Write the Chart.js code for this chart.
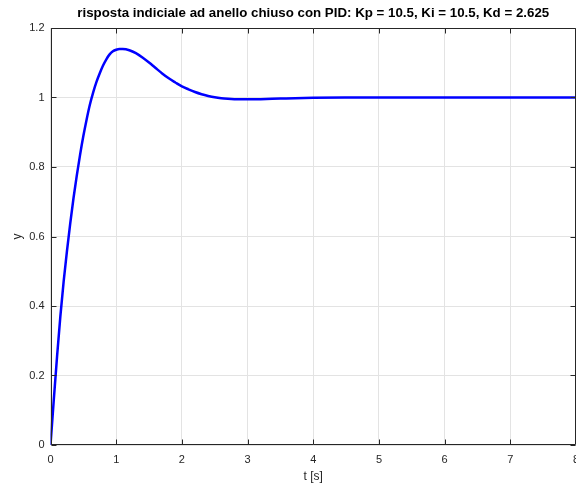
<!DOCTYPE html>
<html lang="en">
<head>
    <meta charset="UTF-8">
    <title>Risposta indiciale PID</title>
    <script src="https://cdn.jsdelivr.net/npm/chart.js"></script>
</head>
<style>
    html, body {
        margin: 0;
        padding: 0;
        background: #ffffff;
    }
    .frame {
        width: 576px;
        height: 484px;
    }
</style>

<body>
    <div class="frame">
        <canvas id="stepChart" width="576" height="484"></canvas>
    </div>
    <script>
        // values
        const timeSec = [0, 0.05, 0.1, 0.15, 0.2, 0.25, 0.3, 0.35, 0.4, 0.45, 0.5, 0.55, 0.6, 0.65, 0.7, 0.75,
            0.8, 0.85, 0.9, 0.95, 1.0, 1.05, 1.1, 1.2, 1.3, 1.4, 1.5, 1.6, 1.7, 1.8, 1.9, 2.0,
            2.1, 2.2, 2.3, 2.4, 2.5, 2.6, 2.7, 2.8, 2.9, 3.0, 3.2, 3.5, 4.0, 4.5, 5, 6, 7, 8];
        const response = [0, 0.13, 0.255, 0.37, 0.47, 0.557, 0.637, 0.71, 0.775, 0.835, 0.889, 0.937, 0.98, 1.015, 1.045, 1.07,
            1.092, 1.11, 1.124, 1.133, 1.1375, 1.1397, 1.1396, 1.1361, 1.1278, 1.1153, 1.1006, 1.0848, 1.0693, 1.0553, 1.0433, 1.032,
            1.0235, 1.0158, 1.0095, 1.0045, 1.0005, 0.9978, 0.9962, 0.9952, 0.9948, 0.9947, 0.9952, 0.9968, 0.999, 0.9998, 1.0, 1.0, 1.0, 1.0];
        const xTicks = [0, 1, 2, 3, 4, 5, 6, 7, 8];
        const yTicks = [0, 0.2, 0.4, 0.6, 0.8, 1, 1.2];
        const titleText = 'risposta indiciale ad anello chiuso con PID: Kp = 10.5, Ki = 10.5, Kd = 2.625';

        const axisColor = '#262626';
        const fontName = '"Liberation Sans", Arial, sans-serif';

        // box round the plot with inward ticks, plus the title (matlab look)
        const boxPlugin = {
            id: 'matlabBox',
            afterDraw(chart) {
                const ctx = chart.ctx;
                const a = chart.chartArea;
                const xs = chart.scales.x, ys = chart.scales.y;
                const L = Math.round(a.left) + 0.5, R = Math.round(a.right) - 0.5;
                const T = Math.round(a.top) + 0.5, B = Math.round(a.bottom) - 0.5;
                ctx.save();
                ctx.strokeStyle = axisColor;
                ctx.lineWidth = 1;
                ctx.beginPath();
                ctx.rect(L, T, R - L, B - T);
                xTicks.forEach(v => {
                    const px = Math.round(xs.getPixelForValue(v)) + 0.5;
                    ctx.moveTo(px, B); ctx.lineTo(px, B - 5);
                    ctx.moveTo(px, T); ctx.lineTo(px, T + 5);
                });
                yTicks.forEach(v => {
                    const py = Math.round(ys.getPixelForValue(v)) + 0.5;
                    ctx.moveTo(L, py); ctx.lineTo(L + 5, py);
                    ctx.moveTo(R, py); ctx.lineTo(R - 5, py);
                });
                ctx.stroke();

                ctx.fillStyle = '#000000';
                ctx.font = 'bold 13.3px ' + fontName;
                ctx.textAlign = 'center';
                ctx.textBaseline = 'middle';
                ctx.fillText(titleText, (a.left + a.right) / 2, 13);
                ctx.restore();
            }
        };

        const stepCtx = document.getElementById('stepChart').getContext('2d');
        const stepChart = new Chart(stepCtx, {
            type: 'line',
            data: {
                datasets: [{
                    data: timeSec.map((t, i) => ({ x: t, y: response[i] })),
                    borderColor: '#0000ff',
                    borderWidth: 2.5,
                    pointRadius: 0,
                    fill: false,
                    cubicInterpolationMode: 'monotone'
                }]
            },
            options: {
                responsive: false,
                animation: false,
                layout: { padding: { top: 28, left: 10, right: 0, bottom: 0 } },
                plugins: {
                    legend: { display: false },
                    tooltip: { enabled: false }
                },
                scales: {
                    x: {
                        type: 'linear',
                        min: 0,
                        max: 8,
                        afterBuildTicks: s => { s.ticks = xTicks.map(v => ({ value: v })); },
                        afterFit: s => { s.height = 39; s.paddingLeft = 0; s.paddingRight = 0; },
                        ticks: {
                            color: axisColor,
                            font: { family: fontName, size: 11 },
                            padding: 8,
                            maxRotation: 0
                        },
                        grid: { color: '#e3e3e3', drawTicks: false },
                        border: { display: false },
                        title: {
                            display: true,
                            text: 't [s]',
                            color: axisColor,
                            font: { family: fontName, size: 12 },
                            padding: { top: 0, bottom: 0 }
                        }
                    },
                    y: {
                        min: 0,
                        max: 1.2,
                        afterBuildTicks: s => { s.ticks = yTicks.map(v => ({ value: v })); },
                        afterFit: s => { s.width = 40.5; s.paddingTop = 0; s.paddingBottom = 0; },
                        ticks: {
                            color: axisColor,
                            font: { family: fontName, size: 11 },
                            padding: 6,
                            callback: v => String(+v.toFixed(1))
                        },
                        grid: { color: '#e3e3e3', drawTicks: false },
                        border: { display: false },
                        title: {
                            display: true,
                            text: 'y',
                            color: axisColor,
                            font: { family: fontName, size: 12 },
                            padding: { top: 0, bottom: 0 }
                        }
                    }
                }
            },
            plugins: [boxPlugin]
        });
    </script>
</body>
</html>
